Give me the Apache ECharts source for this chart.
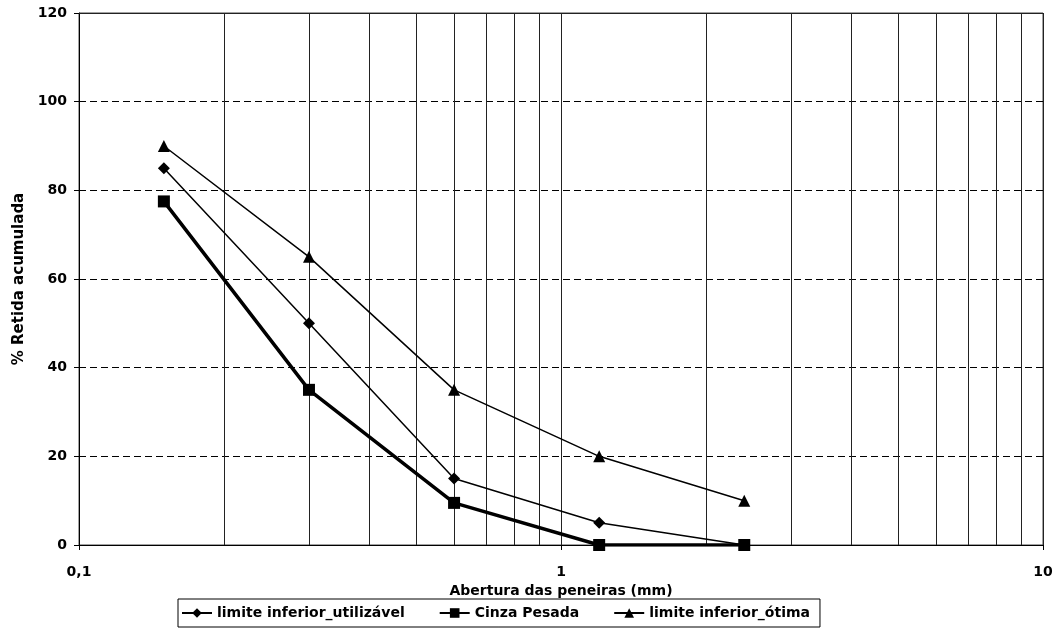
<!DOCTYPE html>
<html>
<head>
<meta charset="utf-8">
<script src="https://cdn.jsdelivr.net/npm/echarts@6/dist/echarts.min.js"></script>
<style>
  html, body { margin: 0; padding: 0; background: #fff; }
  #chart { width: 1062px; height: 631px; }
</style>
</head>
<body>
<div id="chart"></div>
<script>
// aberturas das peneiras (mm)
const peneiras = [0.15, 0.3, 0.6, 1.2, 2.4]
const limiteUtilizavel = [85, 50, 15, 5, 0]
const cinzaPesada = [77.5, 35, 9.5, 0, 0]
const limiteOtima = [90, 65, 35, 20, 10]
// linhas de grade secundárias do eixo log
const gradeMenor = [0.2, 0.3, 0.4, 0.5, 0.6, 0.7, 0.8, 0.9, 2, 3, 4, 5, 6, 7, 8, 9]

const pares = vals => peneiras.map((x, i) => [x, vals[i]])
const fonte = 'DejaVu Sans, sans-serif'

const chart = echarts.init(document.getElementById('chart'))
chart.setOption({
  animation: false,
  textStyle: { fontFamily: fonte },
  grid: { left: 79, right: 19, top: 13, bottom: 86, show: true, borderColor: '#444', borderWidth: 1 },
  xAxis: {
    type: 'log', logBase: 10, min: 0.1, max: 10,
    name: 'Abertura das peneiras (mm)', nameLocation: 'middle', nameGap: 33,
    nameTextStyle: { color: '#000', fontWeight: 'bold', fontSize: 14, fontFamily: fonte },
    axisLine: { lineStyle: { color: '#000' } },
    axisTick: { show: true, length: 5, lineStyle: { color: '#000' } },
    axisLabel: {
      color: '#000', fontWeight: 'bold', fontSize: 14, margin: 20,
      formatter: v => String(v).replace('.', ',')
    },
    splitLine: { show: true, lineStyle: { color: '#222', width: 1 } }
  },
  yAxis: {
    type: 'value', min: 0, max: 120, interval: 20,
    name: '% Retida acumulada', nameLocation: 'middle', nameGap: 52,
    nameTextStyle: { color: '#000', fontWeight: 'bold', fontSize: 15, fontFamily: fonte },
    axisLine: { show: true, lineStyle: { color: '#000' } },
    axisTick: { show: true, length: 5, lineStyle: { color: '#000' } },
    axisLabel: { color: '#000', fontWeight: 'bold', fontSize: 14, margin: 12 },
    splitLine: { show: true, lineStyle: { color: '#000', type: [7, 4], width: 1 } }
  },
  legend: {
    left: 178, top: 599,
    borderColor: '#000', borderWidth: 1, borderRadius: 0,
    padding: [7, 10, 7, 3], itemGap: 34, itemWidth: 30, itemHeight: 12,
    textStyle: { color: '#000', fontWeight: 'bold', fontSize: 14, fontFamily: fonte },
    data: ['limite inferior_utilizável', 'Cinza Pesada', 'limite inferior_ótima']
  },
  series: [
    {
      name: 'limite inferior_utilizável', type: 'line', data: pares(limiteUtilizavel),
      symbol: 'diamond', symbolSize: 12, color: '#000',
      lineStyle: { color: '#000', width: 1.5 }, itemStyle: { color: '#000' },
      markLine: {
        silent: true, symbol: 'none', label: { show: false },
        lineStyle: { color: '#222', width: 1, type: 'solid' },
        data: gradeMenor.map(v => ({ xAxis: v })).concat([{ yAxis: 120 }])
      },
      z: 5
    },
    {
      name: 'Cinza Pesada', type: 'line', data: pares(cinzaPesada),
      symbol: 'rect', symbolSize: 12, color: '#000',
      lineStyle: { color: '#000', width: 3.5 }, itemStyle: { color: '#000' },
      z: 5
    },
    {
      name: 'limite inferior_ótima', type: 'line', data: pares(limiteOtima),
      symbol: 'triangle', symbolSize: 12, color: '#000',
      lineStyle: { color: '#000', width: 1.5 }, itemStyle: { color: '#000' },
      z: 5
    }
  ]
})
</script>
</body>
</html>
